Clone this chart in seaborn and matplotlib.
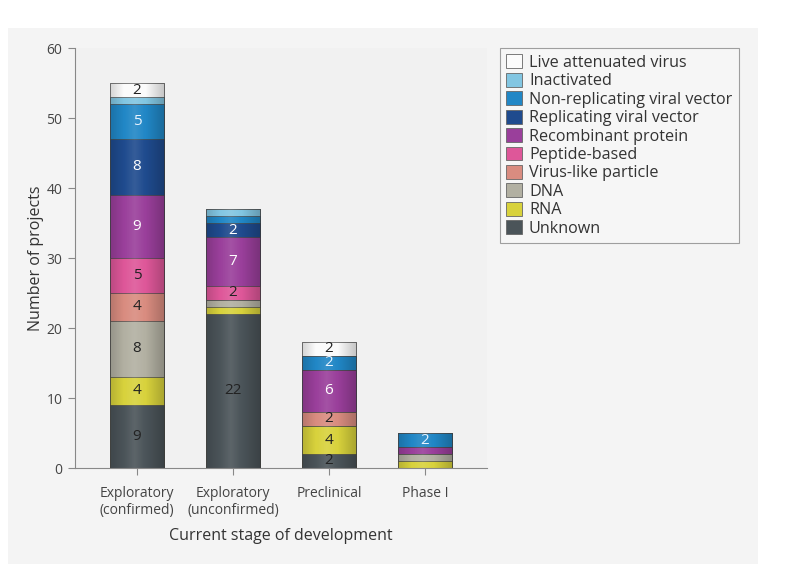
import numpy as np
import pandas as pd
import matplotlib
matplotlib.use("Agg")
import matplotlib.pyplot as plt
from matplotlib.patches import Rectangle, Patch
import seaborn as sns

stages = ["Exploratory\n(confirmed)", "Exploratory\n(unconfirmed)", "Preclinical", "Phase I"]

# bottom to top
types = ["Unknown", "RNA", "DNA", "Virus-like particle", "Peptide-based",
         "Recombinant protein", "Replicating viral vector",
         "Non-replicating viral vector", "Inactivated", "Live attenuated virus"]
unknown = [9, 22, 2, 0]
rna = [4, 1, 4, 1]
dna = [8, 1, 0, 1]
vlp = [4, 0, 2, 0]
peptide = [5, 2, 0, 0]
recombinant = [9, 7, 6, 1]
replicating = [8, 2, 0, 0]
nonreplicating = [5, 1, 2, 2]
inactivated = [1, 1, 0, 0]
live = [2, 0, 2, 0]
series = [unknown, rna, dna, vlp, peptide, recombinant, replicating,
          nonreplicating, inactivated, live]

colors = ["#4b5459", "#d8d23c", "#b2b0a2", "#d98c80", "#de5799",
          "#9a3f9b", "#1f4b8e", "#2187c6", "#82c6e2", "#fbfbfb"]
text_colors = ["#222222", "#222222", "#222222", "#222222", "#222222",
               "#ffffff", "#ffffff", "#e8f4ff", "#222222", "#222222"]

sns.set_style("white")
plt.rcParams["font.family"] = ["Open Sans", "DejaVu Sans"]

fig = plt.figure(figsize=(7.92, 5.64), dpi=100)
fig.patch.set_facecolor("white")
fig.patches.append(Rectangle((8 / 792, 0), 750 / 792, 1 - 28 / 564,
                             transform=fig.transFigure, facecolor="#f4f4f4",
                             edgecolor="none", zorder=-10))
ax = fig.add_axes([75 / 792, 1 - 468 / 564, 412 / 792, 420 / 564])
ax.set_facecolor("#f1f1f1")

data = np.array(series, dtype=float)
cum = np.cumsum(data, axis=0)
df = pd.DataFrame({"stage": stages})
bw = 0.57

for i in range(len(types) - 1, -1, -1):
    df["h"] = cum[i]
    sns.barplot(data=df, x="stage", y="h", color=colors[i], saturation=1,
                width=bw, edgecolor="#4a4a4a", linewidth=0.5, ax=ax,
                zorder=2 + (len(types) - i) * 0.01)

# cylinder-like shading overlay on each stacked bar
xs = np.linspace(0, 1, 64)
shade = np.zeros((1, 64, 4))
light = np.clip(1 - np.abs(xs - 0.45) / 0.2, 0, 1)
dark = np.clip((np.abs(xs - 0.45) - 0.2) / 0.35, 0, 1)
shade[0, :, :3] = np.where(light[:, None] > 0, 1.0, 0.0)
shade[0, :, 3] = 0.10 * light + 0.22 * dark
for j in range(len(stages)):
    top = cum[-1, j]
    ax.imshow(shade, extent=(j - bw / 2, j + bw / 2, 0, top), aspect="auto",
              interpolation="bilinear", zorder=3)

for i in range(len(types)):
    for j in range(len(stages)):
        v = data[i, j]
        if v >= 2:
            yc = cum[i, j] - v / 2
            ax.text(j, yc, f"{int(v)}", ha="center", va="center",
                    fontsize=11, color=text_colors[i], zorder=5)

ax.set_xlim(-0.646, 3.646)
ax.set_ylim(0, 60)
ax.set_yticks(range(0, 61, 10))
for s in ["top", "right"]:
    ax.spines[s].set_visible(False)
for s in ["left", "bottom"]:
    ax.spines[s].set_color("#888888")
    ax.spines[s].set_linewidth(0.8)
ax.tick_params(axis="both", which="both", direction="out", length=5,
               color="#888888", width=0.8, labelsize=10, labelcolor="#444444",
               bottom=True, left=True)
ax.tick_params(axis="x", pad=8)
ax.tick_params(axis="y", pad=4)
ax.set_xlabel("Current stage of development", fontsize=11.5, color="#333333", labelpad=7)
ax.set_ylabel("Number of projects", fontsize=11.5, color="#333333", labelpad=2)

handles = [Patch(facecolor=colors[i], edgecolor="#666666", linewidth=0.6)
           for i in range(len(types) - 1, -1, -1)]
labels = [types[i] for i in range(len(types) - 1, -1, -1)]
leg = fig.legend(handles, labels, loc="upper left",
                 bbox_to_anchor=(500 / 792, 1 - 48 / 564), frameon=True,
                 fontsize=11.6, handlelength=0.95, handleheight=0.95,
                 handletextpad=0.45, labelspacing=0.12, borderpad=0.4,
                 borderaxespad=0, fancybox=False)
leg.get_frame().set_facecolor("#f7f7f7")
leg.get_frame().set_edgecolor("#888888")
leg.get_frame().set_linewidth(0.8)
for t in leg.get_texts():
    t.set_color("#333333")

fig.savefig("out.png", dpi=100)
